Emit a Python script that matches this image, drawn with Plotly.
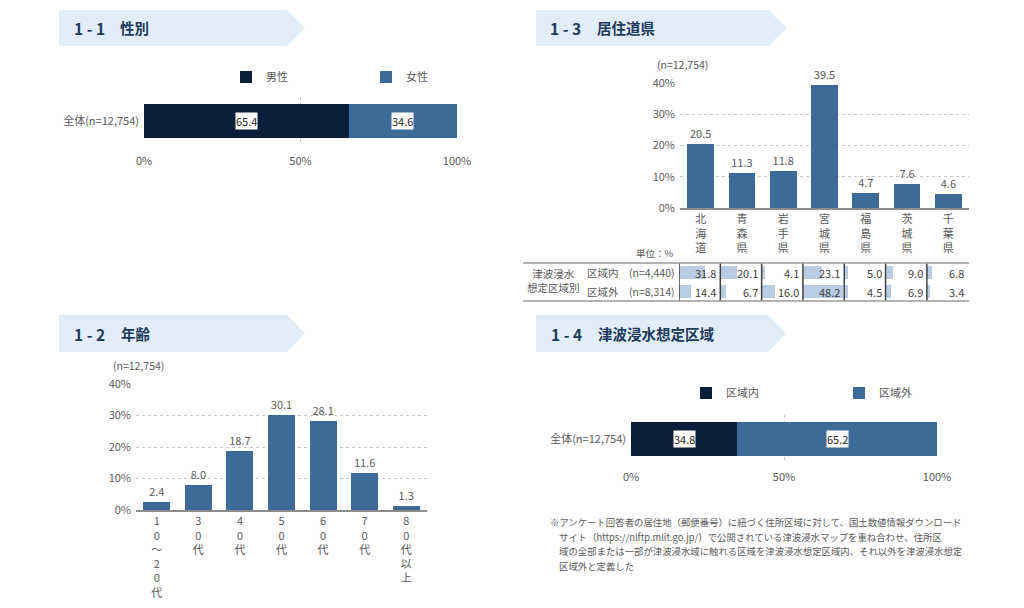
import plotly.graph_objects as go

# the page body keeps an 8px margin, so the figure is drawn 8px in and 8px smaller
OFF = 8
W, H = 1024 - OFF, 608 - OFF
FONT = "Noto Sans CJK JP"
NAVY = "#0b1f3d"
BLUE = "#3e6a98"
LIGHT = "#b8cce3"
GRAY = "#595959"
BANNER = "#e1eefa"
TITLE_C = "#1d3a5c"

# 1-1 性別
GENDER_LABELS = ["男性", "女性"]
GENDER_VALUES = [65.4, 34.6]
GENDER_CAT = "全体(n=12,754)"

# 1-2 年齢
AGE_LABELS = ["10～20代", "30代", "40代", "50代", "60代", "70代", "80代以上"]
AGE_VALUES = [2.4, 8.0, 18.7, 30.1, 28.1, 11.6, 1.3]

# 1-3 居住道県
PREF_LABELS = ["北海道", "青森県", "岩手県", "宮城県", "福島県", "茨城県", "千葉県"]
PREF_VALUES = [20.5, 11.3, 11.8, 39.5, 4.7, 7.6, 4.6]
ZONE_ROWS = ["区域内", "区域外"]
ZONE_ROW_N = ["(n=4,440)", "(n=8,314)"]
PREF_IN = [31.8, 20.1, 4.1, 23.1, 5.0, 9.0, 6.8]
PREF_OUT = [14.4, 6.7, 16.0, 48.2, 4.5, 6.9, 3.4]

# 1-4 津波浸水想定区域
ZONE_LABELS = ["区域内", "区域外"]
ZONE_VALUES = [34.8, 65.2]
ZONE_CAT = "全体(n=12,754)"

PCT_TICKS = [0, 50, 100]

NOTE_LINES = [
    "※アンケート回答者の居住地（郵便番号）に紐づく住所区域に対して、国土数値情報ダウンロード",
    "サイト（https://nlftp.mlit.go.jp/）で公開されている津波浸水マップを重ね合わせ、住所区",
    "域の全部または一部が津波浸水域に触れる区域を津波浸水想定区域内、それ以外を津波浸水想定",
    "区域外と定義した",
]


def X(p):
    return (p - OFF) / W


def Y(p):
    return 1 - (p - OFF) / H


def vertical(s):
    return "<br>".join(list(s))


fig = go.Figure()

# ---- 1-1 stacked horizontal bar
for lab, v, col in zip(GENDER_LABELS, GENDER_VALUES, [NAVY, BLUE]):
    fig.add_trace(go.Bar(x=[v], y=[GENDER_CAT], orientation="h", name=lab,
                         marker=dict(color=col, line=dict(width=0)), width=0.71,
                         xaxis="x", yaxis="y", legend="legend", hoverinfo="skip"))

# ---- 1-4 stacked horizontal bar
for lab, v, col in zip(ZONE_LABELS, ZONE_VALUES, [NAVY, BLUE]):
    fig.add_trace(go.Bar(x=[v], y=[ZONE_CAT], orientation="h", name=lab,
                         marker=dict(color=col, line=dict(width=0)), width=0.71,
                         xaxis="x5", yaxis="y5", legend="legend2", hoverinfo="skip"))

# ---- 1-3 column chart
fig.add_trace(go.Bar(x=PREF_LABELS, y=PREF_VALUES, marker=dict(color=BLUE, line=dict(width=0)),
                     text=PREF_VALUES, texttemplate="%{y:.1f}", textposition="outside",
                     textfont=dict(color=GRAY, size=11), cliponaxis=False,
                     xaxis="x2", yaxis="y2", showlegend=False, hoverinfo="skip"))

# ---- 1-2 column chart
fig.add_trace(go.Bar(x=AGE_LABELS, y=AGE_VALUES, marker=dict(color=BLUE, line=dict(width=0)),
                     text=AGE_VALUES, texttemplate="%{y:.1f}", textposition="outside",
                     textfont=dict(color=GRAY, size=11), cliponaxis=False,
                     xaxis="x4", yaxis="y4", showlegend=False, hoverinfo="skip"))

# ---- 1-3 table mini bars
CELL = 50
for row, vals in zip(ZONE_ROWS, [PREF_IN, PREF_OUT]):
    fig.add_trace(go.Bar(x=vals, y=[row] * len(vals), base=[j * CELL for j in range(len(vals))],
                         orientation="h", width=0.72, marker=dict(color=LIGHT, line=dict(width=0)),
                         xaxis="x3", yaxis="y3", showlegend=False, hoverinfo="skip"))

fig.update_layout(barmode="stack", bargap=0.35)

ann = []
shapes = []

# stacked bar labels
for axis, vals in (("x", GENDER_VALUES), ("x5", ZONE_VALUES)):
    ycat = GENDER_CAT if axis == "x" else ZONE_CAT
    start = 0
    for v in vals:
        ann.append(dict(x=start + v / 2, y=ycat, xref=axis, yref="y" if axis == "x" else "y5",
                        text=f"{v:.1f}", showarrow=False, bgcolor="white", borderpad=0,
                        font=dict(color="#262626", size=11)))
        start += v

# table values
for row, vals in zip(ZONE_ROWS, [PREF_IN, PREF_OUT]):
    for j, v in enumerate(vals):
        ann.append(dict(x=(j + 1) * CELL, y=row, xref="x3", yref="y3", xanchor="right",
                        xshift=-2, text=f"{v:.1f}", showarrow=False,
                        font=dict(color="#404040", size=11)))

# table separators
for j in range(len(PREF_LABELS)):
    shapes.append(dict(type="line", xref="x3", yref="paper", x0=j * CELL, x1=j * CELL,
                       y0=Y(263), y1=Y(301), line=dict(color="#404040", width=1.5)))
for py in (263, 301):
    shapes.append(dict(type="line", xref="paper", yref="paper", x0=X(523), x1=X(969),
                       y0=Y(py), y1=Y(py), line=dict(color="#9a9a9a", width=1.5)))

# table row labels
ann.append(dict(x=X(553), y=Y(280), xref="paper", yref="paper", xanchor="center",
                text="津波浸水<br>想定区域別", showarrow=False, font=dict(color=GRAY, size=10.5)))
for row, n in zip(ZONE_ROWS, ZONE_ROW_N):
    ann.append(dict(x=X(585), y=row, xref="paper", yref="y3", xanchor="left", text=row,
                    showarrow=False, font=dict(color=GRAY, size=10.5)))
    ann.append(dict(x=X(677), y=row, xref="paper", yref="y3", xanchor="right", text=n,
                    showarrow=False, font=dict(color=GRAY, size=10.5)))
ann.append(dict(x=X(634), y=Y(253), xref="paper", yref="paper", xanchor="left", text="単位：%",
                showarrow=False, font=dict(color=GRAY, size=9.5)))

# n labels
ann.append(dict(x=X(655), y=Y(64), xref="paper", yref="paper", xanchor="left", text="(n=12,754)",
                showarrow=False, font=dict(color=GRAY, size=10.5)))
ann.append(dict(x=X(111), y=Y(365), xref="paper", yref="paper", xanchor="left", text="(n=12,754)",
                showarrow=False, font=dict(color=GRAY, size=10.5)))

# banners and titles
BANNERS = [
    ("1-1", "性別", 59, 287, 305, 10, 46, 72, 118),
    ("1-3", "居住道県", 536, 768, 787, 10, 46, 548, 595),
    ("1-2", "年齢", 59, 287, 305, 315, 352, 72, 119),
    ("1-4", "津波浸水想定区域", 536, 768, 786, 315, 352, 549, 596),
]
for num, title, x0, x1, tip, y0, y1, tx, tt in BANNERS:
    ym = (y0 + y1) / 2
    path = (f"M {X(x0)},{Y(y0)} L {X(x1)},{Y(y0)} L {X(tip)},{Y(ym)} "
            f"L {X(x1)},{Y(y1)} L {X(x0)},{Y(y1)} Z")
    shapes.append(dict(type="path", xref="paper", yref="paper", path=path,
                       fillcolor=BANNER, line=dict(width=0), layer="below"))
    ann.append(dict(x=X(tx), y=Y(ym), xref="paper", yref="paper", xanchor="left",
                    text="<b>" + num.replace("-", " - ") + "</b>", showarrow=False,
                    font=dict(color=TITLE_C, size=15.5)))
    ann.append(dict(x=X(tt), y=Y(ym), xref="paper", yref="paper", xanchor="left",
                    text="<b>" + title + "</b>", showarrow=False,
                    font=dict(color=TITLE_C, size=14.5)))

# footnote
for i, line in enumerate(NOTE_LINES):
    ann.append(dict(x=X(548 if i == 0 else 557), y=Y(522 + i * 14.7), xref="paper", yref="paper",
                    xanchor="left", text=line, showarrow=False,
                    font=dict(color=GRAY, size=9.4)))

for a in ann:
    a.setdefault("yanchor", "middle")

grid = dict(showgrid=True, gridcolor="#c8c8c8", griddash="dot", gridwidth=1, automargin=False)
tickf = dict(color=GRAY, size=11)

fig.update_layout(
    width=W, height=H, margin=dict(l=0, r=0, t=0, b=0, autoexpand=False),
    paper_bgcolor="white", plot_bgcolor="white",
    font=dict(family=FONT, color=GRAY),
    annotations=ann, shapes=shapes,
    # 1-1
    xaxis=dict(domain=[X(144), X(457)], range=[0, 100], tickvals=PCT_TICKS,
               ticktext=[f"{t}%" for t in PCT_TICKS], tickfont=tickf, zeroline=False,
               ticklabelstandoff=8, **grid),
    yaxis=dict(domain=[Y(145), Y(97)], range=[-0.5, 0.5], tickfont=tickf, showgrid=False,
               zeroline=False, anchor="x", ticklabelstandoff=4, automargin=False),
    # 1-3 chart
    xaxis2=dict(domain=[X(680), X(969)], anchor="y2", tickvals=PREF_LABELS,
                ticktext=[vertical(s) for s in PREF_LABELS], tickfont=tickf,
                showline=True, linecolor="#8c8c8c", linewidth=2, showgrid=False,
                automargin=False),
    yaxis2=dict(domain=[Y(208), Y(83)], anchor="x2", range=[0, 40], dtick=10, ticksuffix="%",
                tickfont=tickf, zeroline=False, ticklabelstandoff=4, **grid),
    # table
    xaxis3=dict(domain=[X(679), X(969)], anchor="y3", range=[0, CELL * 7.02], visible=False,
                automargin=False),
    yaxis3=dict(domain=[Y(301), Y(263)], anchor="x3", range=[1.5, -0.5], visible=False,
                automargin=False),
    # 1-2 chart
    xaxis4=dict(domain=[X(136), X(427)], anchor="y4", tickvals=AGE_LABELS,
                ticktext=[vertical(s) for s in AGE_LABELS], tickfont=tickf,
                showline=True, linecolor="#8c8c8c", linewidth=2, showgrid=False,
                automargin=False),
    yaxis4=dict(domain=[Y(510), Y(384)], anchor="x4", range=[0, 40], dtick=10, ticksuffix="%",
                tickfont=tickf, zeroline=False, ticklabelstandoff=4, **grid),
    # 1-4
    xaxis5=dict(domain=[X(631), X(937)], anchor="y5", range=[0, 100], tickvals=PCT_TICKS,
                ticktext=[f"{t}%" for t in PCT_TICKS], tickfont=tickf, zeroline=False,
                ticklabelstandoff=6, **grid),
    yaxis5=dict(domain=[Y(463), Y(415)], anchor="x5", range=[-0.5, 0.5], tickfont=tickf,
                showgrid=False, zeroline=False, ticklabelstandoff=4, automargin=False),
    legend=dict(orientation="h", x=X(226), y=Y(77), xanchor="left", yanchor="middle",
                traceorder="normal", entrywidth=95, entrywidthmode="pixels",
                font=dict(color=GRAY, size=11), bgcolor="rgba(0,0,0,0)"),
    legend2=dict(orientation="h", x=X(686), y=Y(393), xanchor="left", yanchor="middle",
                 traceorder="normal", entrywidth=108, entrywidthmode="pixels",
                 font=dict(color=GRAY, size=11), bgcolor="rgba(0,0,0,0)"),
)

fig.write_html("out.html")
